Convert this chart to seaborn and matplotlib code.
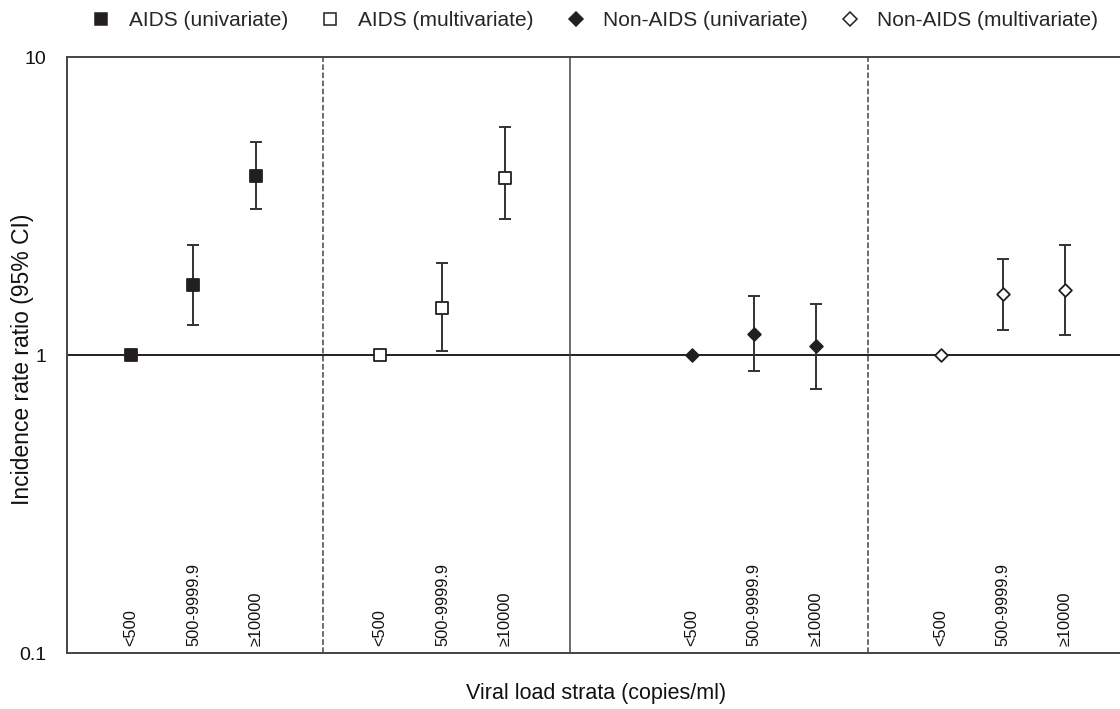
import numpy as np
import pandas as pd
import matplotlib
matplotlib.use("Agg")
import matplotlib.pyplot as plt
import matplotlib.transforms as mtransforms
from matplotlib.lines import Line2D
import seaborn as sns

# Datos
grupos = ["AIDS (univariate)", "AIDS (multivariate)",
          "Non-AIDS (univariate)", "Non-AIDS (multivariate)"]
estratos = ["<500", "500-9999.9", "≥10000"]

irr_aids_uni = [1.0, 1.72, 3.99]
lo_aids_uni = [1.0, 1.26, 3.09]
hi_aids_uni = [1.0, 2.34, 5.19]

irr_aids_multi = [1.0, 1.44, 3.93]
lo_aids_multi = [1.0, 1.03, 2.87]
hi_aids_multi = [1.0, 2.03, 5.83]

irr_non_uni = [1.0, 1.18, 1.07]
lo_non_uni = [1.0, 0.884, 0.769]
hi_non_uni = [1.0, 1.58, 1.48]

irr_non_multi = [1.0, 1.60, 1.65]
lo_non_multi = [1.0, 1.21, 1.17]
hi_non_multi = [1.0, 2.10, 2.34]

# posicion de cada grupo en el eje (ranuras de categorias)
inicio_grupo = [0, 4, 9, 13]
divisores = [3.08, 7.05, 11.83]
estilo_divisor = ["--", "-", "--"]

# tabla larga
filas = []
series = [(irr_aids_uni, lo_aids_uni, hi_aids_uni),
          (irr_aids_multi, lo_aids_multi, hi_aids_multi),
          (irr_non_uni, lo_non_uni, hi_non_uni),
          (irr_non_multi, lo_non_multi, hi_non_multi)]
for g, (irr, lo, hi) in enumerate(series):
    for s, est in enumerate(estratos):
        filas.append({"grupo": grupos[g], "estrato": est,
                      "x": inicio_grupo[g] + s,
                      "irr": irr[s], "lo": lo[s], "hi": hi[s]})
df = pd.DataFrame(filas)

sns.set_style("white")
plt.rcParams["font.family"] = ["Liberation Sans", "DejaVu Sans"]

negro = "#231f20"
marcadores = {grupos[0]: ("s", negro), grupos[1]: ("s", "white"),
              grupos[2]: ("D", negro), grupos[3]: ("D", "white")}
tam = {"s": 66, "D": 42}

fig = plt.figure(figsize=(11.2, 7.09), dpi=100)
ax = fig.add_axes([67 / 1120, 56 / 709, (1120 - 67) / 1120, 596 / 709])
ax.set_yscale("log")
ax.set_ylim(0.1, 10)
ax.set_xlim(-1.03, 15.88)

# linea de referencia en 1 y separadores
ax.axhline(1, color=negro, lw=1.4, zorder=1)
for d, ls in zip(divisores, estilo_divisor):
    ax.axvline(d, color="#444444", lw=1.1, ls=ls, zorder=1)

# intervalos de confianza
for g in grupos:
    sub = df[df["grupo"] == g]
    sub = sub[sub["hi"] > sub["lo"]]
    ax.errorbar(sub["x"], sub["irr"],
                yerr=[sub["irr"] - sub["lo"], sub["hi"] - sub["irr"]],
                fmt="none", ecolor="#333333", elinewidth=1.4,
                capsize=4, capthick=1.4, zorder=2)

# puntos
for g in grupos:
    m, c = marcadores[g]
    sns.scatterplot(data=df[df["grupo"] == g], x="x", y="irr", ax=ax,
                    marker=m, s=tam[m], color=c, edgecolor=negro,
                    linewidth=1.3, zorder=3, legend=False)

# etiquetas de estratos dentro del area
trans = mtransforms.blended_transform_factory(ax.transData, ax.transAxes)
for _, fila in df.iterrows():
    ax.text(fila["x"], 0.012, fila["estrato"], rotation=90, ha="center",
            va="bottom", fontsize=11.8, color="#111111", transform=trans)

ax.set_yticks([0.1, 1, 10])
ax.set_yticklabels(["0.1", "1", "10"])
ax.minorticks_off()
ax.set_xticks([])
ax.tick_params(axis="y", length=0, pad=15, labelsize=14, colors="#111111")
ax.set_xlabel("")
ax.set_ylabel("Incidence rate ratio (95% CI)", fontsize=16.5,
              color="#111111")
ax.yaxis.set_label_coords(-0.031, 0.492)
fig.text(0.532, 0.022, "Viral load strata (copies/ml)", ha="center",
         va="center", fontsize=15.5, color="#111111")

for lado in ["left", "top", "bottom"]:
    ax.spines[lado].set_color("#444444")
    ax.spines[lado].set_linewidth(1.4)
ax.spines["right"].set_visible(False)

# leyenda
manejadores = []
for g in grupos:
    m, c = marcadores[g]
    manejadores.append(Line2D([], [], ls="none", marker=m,
                              markersize=8.5 if m == "s" else 7,
                              markerfacecolor=c, markeredgecolor=negro,
                              markeredgewidth=1.1, label=g))
fig.legend(handles=manejadores, loc="center", bbox_to_anchor=(0.531, 0.971),
           ncol=4, frameon=False, fontsize=15, handletextpad=0.8,
           columnspacing=1.55, handlelength=1.0)

fig.savefig("out.png", dpi=100)
